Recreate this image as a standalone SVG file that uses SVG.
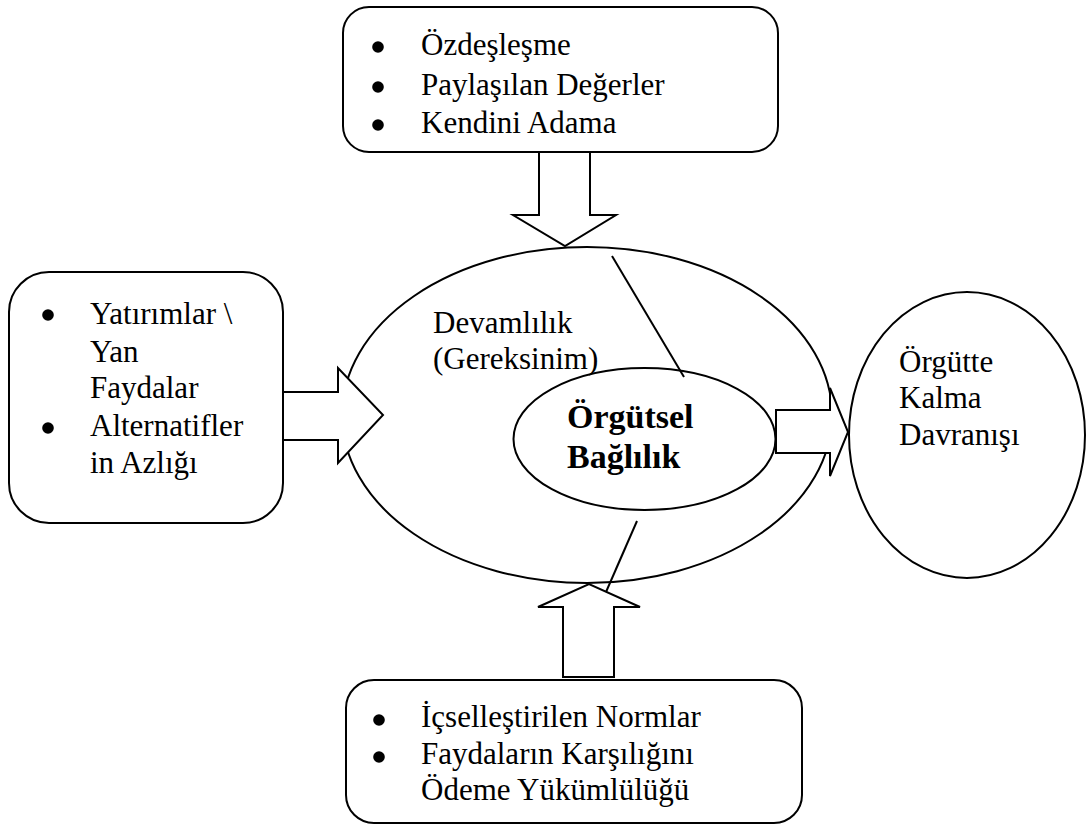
<svg xmlns="http://www.w3.org/2000/svg" width="1086" height="825" viewBox="0 0 1086 825">
  <style>
    .box { fill: #fff; stroke: #000; stroke-width: 2; }
    .shape { fill: none; stroke: #000; stroke-width: 2; }
    .arrow { fill: #fff; stroke: #000; stroke-width: 2; stroke-linejoin: miter; }
    .line { stroke: #000; stroke-width: 2; fill: none; }
    text { font-family: 'Liberation Serif', Tinos, 'DejaVu Serif', serif; font-size: 31px; fill: #000; }
    .tb { font-size: 34px; font-weight: bold; }
    .dot { fill: #000; }
  </style>
  <rect width="1086" height="825" fill="#fff"/>

  <!-- outer ellipse: continuance commitment -->
  <g id="devamlilik">
    <ellipse class="shape" cx="587" cy="415" rx="245" ry="168"/>
    <text x="433" y="333">Devamlılık</text>
    <text x="433" y="369">(Gereksinim)</text>
  </g>

  <!-- inner ellipse -->
  <g id="orgutsel-baglilik">
    <ellipse class="shape" cx="644.5" cy="439" rx="131" ry="71"/>
    <text class="tb" x="567" y="428">Örgütsel</text>
    <text class="tb" x="567" y="468">Bağlılık</text>
  </g>

  <!-- right ellipse -->
  <g id="orgutte-kalma">
    <ellipse class="shape" cx="967" cy="435" rx="118" ry="143"/>
    <text x="899" y="372">Örgütte</text>
    <text x="899" y="408">Kalma</text>
    <text x="899" y="445">Davranışı</text>
  </g>

  <!-- top box -->
  <g id="duygusal">
    <rect class="box" x="343" y="7" width="435" height="145" rx="26" ry="26"/>
    <circle class="dot" cx="378" cy="47" r="5.8"/>
    <circle class="dot" cx="378" cy="87" r="5.8"/>
    <circle class="dot" cx="378" cy="125" r="5.8"/>
    <text x="421" y="55">Özdeşleşme</text>
    <text x="421" y="95">Paylaşılan Değerler</text>
    <text x="421" y="133">Kendini Adama</text>
  </g>

  <!-- left box -->
  <g id="devamlilik-kaynaklari">
    <rect class="box" x="9" y="272" width="274" height="251" rx="40" ry="40"/>
    <circle class="dot" cx="48" cy="315" r="5.8"/>
    <circle class="dot" cx="48" cy="428" r="5.8"/>
    <text x="90" y="324">Yatırımlar \</text>
    <text x="90" y="362">Yan</text>
    <text x="90" y="398">Faydalar</text>
    <text x="90" y="436">Alternatifler</text>
    <text x="90" y="473">in Azlığı</text>
  </g>

  <!-- bottom box -->
  <g id="normatif">
    <rect class="box" x="346" y="680" width="456" height="143" rx="28" ry="28"/>
    <circle class="dot" cx="379" cy="720" r="5.8"/>
    <circle class="dot" cx="379" cy="757" r="5.8"/>
    <text x="421" y="727">İçselleştirilen Normlar</text>
    <text x="421" y="764">Faydaların Karşılığını</text>
    <text x="421" y="800">Ödeme Yükümlülüğü</text>
  </g>

  <!-- block arrows and connecting lines -->
  <g id="connectors">
    <polygon class="arrow" points="539,152 590,152 590,215 616,215 565,246 513,215 539,215"/>
    <polygon class="arrow" points="283,392 338,392 338,368 383,415 338,463 338,440 283,440"/>
    <polygon class="arrow" points="563,677 614,677 614,607 640,607 589,584 538,607 563,607"/>
    <polygon class="arrow" points="776,410 830,410 830,388 848,432 830,476 830,453 776,453"/>
    <line class="line" x1="612" y1="256" x2="684" y2="377"/>
    <line class="line" x1="637" y1="521" x2="606" y2="592"/>
  </g>
</svg>
